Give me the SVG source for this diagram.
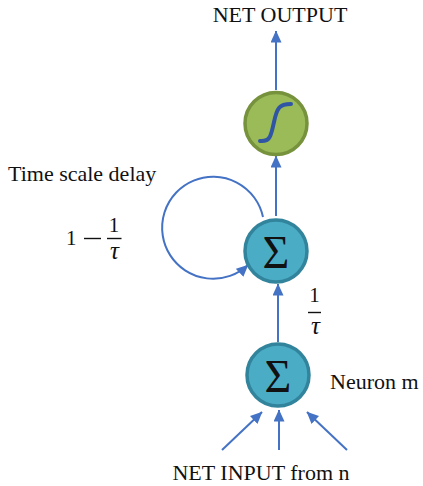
<svg xmlns="http://www.w3.org/2000/svg" width="423" height="486" viewBox="0 0 423 486">
<style>
.t{font-family:"Liberation Serif","Times New Roman",serif;font-size:22px;fill:#111}
.m{font-family:"Liberation Serif","DejaVu Serif",serif;font-size:21px;fill:#111}
.tau{font-family:"Liberation Serif","DejaVu Serif",serif;font-size:25px;font-style:italic;fill:#111;text-anchor:middle}
.sig{font-family:"Liberation Serif","DejaVu Serif",serif;font-size:46px;fill:#111;text-anchor:middle}
.teal{fill:#4BACC6;stroke:#31849B;stroke-width:3.5}
.green{fill:#9BBB59;stroke:#76923C;stroke-width:3.5}
.ln{stroke:#4472C4;stroke-width:2;fill:none;marker-end:url(#ah)}
.bar{stroke:#111;stroke-width:1.4}
</style>
<defs>
<marker id="ah" viewBox="0 0 12 11" refX="11.5" refY="5.5" markerWidth="12" markerHeight="11" markerUnits="userSpaceOnUse" orient="auto">
<path d="M0,0 L12,5.5 L0,11 Z" fill="#4472C4"/>
</marker>
</defs>
<g id="connectors">
<line class="ln" x1="276" y1="90" x2="276" y2="31"/>
<line class="ln" x1="276" y1="216" x2="276" y2="156"/>
<line class="ln" x1="278" y1="342" x2="278" y2="284"/>
<line class="ln" x1="222" y1="450" x2="262" y2="412"/>
<line class="ln" x1="279" y1="450" x2="279" y2="410"/>
<line class="ln" x1="347" y1="450" x2="307" y2="412"/>
<path class="ln" d="M263,217 A51,51 0 1 0 248,265"/>
</g>
<g id="output-label"><text class="t" x="280" y="22" text-anchor="middle">NET OUTPUT</text></g>
<g id="activation">
<circle class="green" cx="276" cy="123.5" r="31"/>
<path d="M260,141 C270,142 271,136 274,122 C277,108 279,104 291,104" fill="none" stroke="#2F55A4" stroke-width="4" stroke-linecap="round"/>
</g>
<g id="sum-delay">
<circle class="teal" cx="276" cy="251" r="31"/>
<text class="sig" x="276" y="268">Σ</text>
</g>
<g id="neuron-m">
<circle class="teal" cx="278" cy="375" r="31"/>
<text class="sig" x="278" y="392">Σ</text>
</g>
<g id="labels">
<text class="t" x="8" y="181">Time scale delay</text>
<text class="m" x="66" y="245">1</text>
<line class="bar" x1="84" y1="238.5" x2="101" y2="238.5"/>
<text class="m" x="114" y="232" text-anchor="middle">1</text>
<line class="bar" x1="107" y1="238.5" x2="121.5" y2="238.5"/>
<text class="tau" x="114.5" y="259">τ</text>
<text class="m" x="314.5" y="302" text-anchor="middle">1</text>
<line class="bar" x1="308" y1="312.5" x2="321" y2="312.5"/>
<text class="tau" x="315.5" y="334">τ</text>
<text class="t" x="330" y="389">Neuron m</text>
<text class="t" x="261" y="480" text-anchor="middle">NET INPUT from n</text>
</g>
</svg>
